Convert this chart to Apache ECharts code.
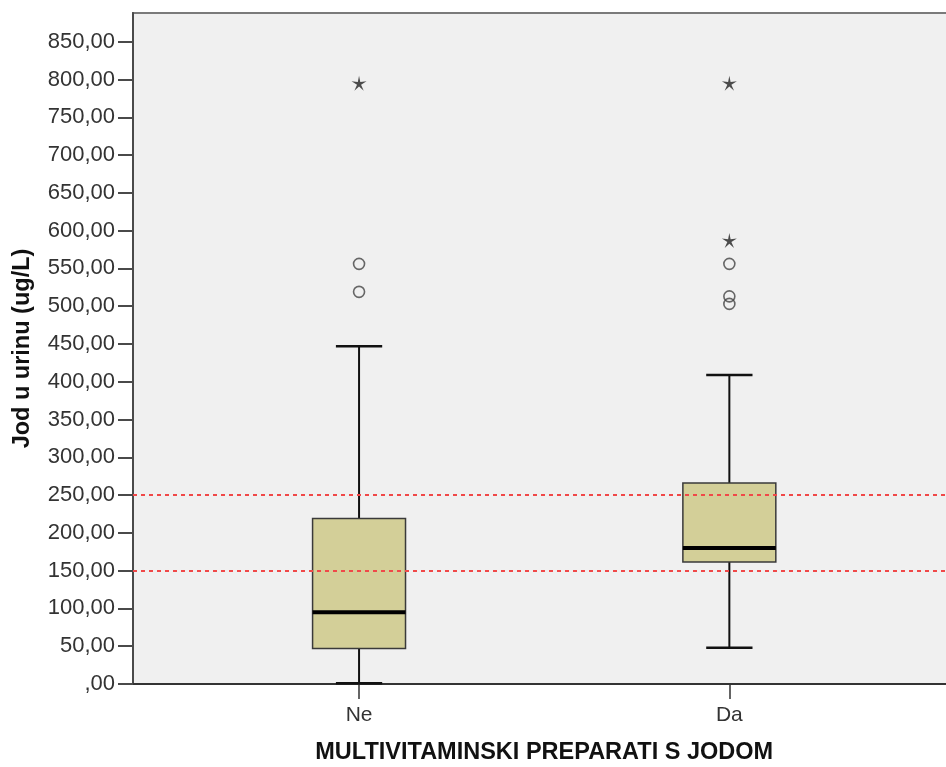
<!DOCTYPE html>
<html>
<head>
<meta charset="utf-8">
<script src="https://cdn.jsdelivr.net/npm/echarts@6/dist/echarts.min.js"></script>
<style>
html,body{margin:0;padding:0;background:#fff;}
#chart{width:946px;height:767px;}
</style>
</head>
<body>
<div id="chart"></div>
<script>
// ---- data ----
const categories = ['Ne', 'Da'];
const boxMin    = [1, 48];
const boxQ1     = [47, 161.5];
const boxMedian = [95, 180];
const boxQ3     = [219, 266];
const boxMax    = [447, 409];
const circleCat = [0, 0, 1, 1, 1];
const circleVal = [556, 519, 556, 513, 503];
const starCat   = [0, 1, 1];
const starVal   = [795, 795, 587];
const refLines  = [150, 250];
const yTicks    = [0, 50, 100, 150, 200, 250, 300, 350, 400, 450, 500, 550, 600, 650, 700, 750, 800, 850];
const yMax = 888;
const xTitle = 'MULTIVITAMINSKI PREPARATI S JODOM';
const yTitle = 'Jod u urinu (ug/L)';

// ---- build ----
const boxData = categories.map((c, i) => [i, boxMin[i], boxQ1[i], boxMedian[i], boxQ3[i], boxMax[i]]);
const circleData = circleCat.map((c, i) => [c, circleVal[i]]);
const starData = starCat.map((c, i) => [c, starVal[i]]);
const FONT = '"Liberation Sans", Arial, sans-serif';
const starPath = 'path://M50,0 L58,38 L98,34 L63,55 L80,92 L50,66 L20,92 L37,55 L2,34 L42,38 Z';

const chart = echarts.init(document.getElementById('chart'), null, {renderer: 'canvas'});
const option = {
  animation: false,
  backgroundColor: '#ffffff',
  grid: [
    {left: 133, right: -3, top: 13, bottom: 83, containLabel: false, outerBoundsMode: 'none',
     show: true, backgroundColor: '#f0f0f0', borderColor: '#7a7a7a', borderWidth: 2},
    {left: 173.9, width: 740.6, top: 13, bottom: 83, containLabel: false, outerBoundsMode: 'none'}
  ],
  xAxis: [
    {gridIndex: 0, type: 'value', min: 0, max: 1,
     axisLine: {show: true, lineStyle: {color: '#333', width: 2}},
     axisTick: {show: false}, axisLabel: {show: false}, splitLine: {show: false}},
    {gridIndex: 1, type: 'category', data: categories, boundaryGap: true,
     axisLine: {show: false},
     axisTick: {show: true, alignWithLabel: true, length: 15, lineStyle: {color: '#333', width: 1.5}},
     axisLabel: {margin: 21, fontFamily: FONT, fontSize: 21, color: '#333'},
     name: xTitle, nameLocation: 'middle', nameGap: 57,
     nameTextStyle: {fontFamily: FONT, fontSize: 23.5, fontWeight: 'bold', color: '#111'},
     splitLine: {show: false}}
  ],
  yAxis: [
    {gridIndex: 0, type: 'value', min: 0, max: yMax, interval: 50,
     axisLine: {show: true, lineStyle: {color: '#4a4a4a', width: 2}},
     axisTick: {show: true, length: 15, customValues: yTicks, lineStyle: {color: '#4a4a4a', width: 2}},
     axisLabel: {margin: 18, customValues: yTicks, fontFamily: FONT, fontSize: 22, color: '#333',
       formatter: v => (v === 0 ? ',00' : v + ',00')},
     splitLine: {show: false},
     name: yTitle, nameLocation: 'middle', nameGap: 98, nameRotate: 90,
     nameTextStyle: {fontFamily: FONT, fontSize: 23.5, fontWeight: 'bold', color: '#111'}},
    {gridIndex: 1, type: 'value', min: 0, max: yMax, show: false}
  ],
  series: [
    {type: 'line', xAxisIndex: 0, yAxisIndex: 0, data: [], silent: true,
     markLine: {silent: true, symbol: 'none', label: {show: false},
       lineStyle: {color: '#f04848', type: [4, 4], width: 1.8},
       data: refLines.map(v => ({yAxis: v}))}},
    {type: 'custom', xAxisIndex: 1, yAxisIndex: 1, data: boxData,
     encode: {x: 0, y: [1, 2, 3, 4, 5]},
     renderItem: function (params, api) {
       const x = api.value(0);
       const band = api.size([1, 0])[0];
       const bw = band * 0.251;
       const cw = band * 0.125;
       const pMin = api.coord([x, api.value(1)]);
       const pQ1 = api.coord([x, api.value(2)]);
       const pMed = api.coord([x, api.value(3)]);
       const pQ3 = api.coord([x, api.value(4)]);
       const pMax = api.coord([x, api.value(5)]);
       const cx = pMin[0];
       const wl = {stroke: '#111', lineWidth: 2};
       return {type: 'group', children: [
         {type: 'line', shape: {x1: cx, y1: pMin[1], x2: cx, y2: pQ1[1]}, style: wl},
         {type: 'line', shape: {x1: cx, y1: pQ3[1], x2: cx, y2: pMax[1]}, style: wl},
         {type: 'line', shape: {x1: cx - cw / 2, y1: pMin[1], x2: cx + cw / 2, y2: pMin[1]}, style: {stroke: '#111', lineWidth: 2.5}},
         {type: 'line', shape: {x1: cx - cw / 2, y1: pMax[1], x2: cx + cw / 2, y2: pMax[1]}, style: {stroke: '#111', lineWidth: 2.5}},
         {type: 'rect', shape: {x: cx - bw / 2, y: pQ3[1], width: bw, height: pQ1[1] - pQ3[1]},
          style: {fill: '#d3cf98', stroke: '#3a3a3a', lineWidth: 1.5}},
         {type: 'line', shape: {x1: cx - bw / 2, y1: pMed[1], x2: cx + bw / 2, y2: pMed[1]}, style: {stroke: '#000', lineWidth: 4}}
       ]};
     }},
    {type: 'scatter', xAxisIndex: 1, yAxisIndex: 1, data: circleData, symbol: 'circle', symbolSize: 11,
     itemStyle: {color: 'rgba(0,0,0,0)', borderColor: '#444', borderWidth: 1.6}},
    {type: 'scatter', xAxisIndex: 1, yAxisIndex: 1, data: starData, symbol: starPath, symbolSize: 15,
     itemStyle: {color: '#222'}}
  ]
};
chart.setOption(option);
</script>
</body>
</html>
